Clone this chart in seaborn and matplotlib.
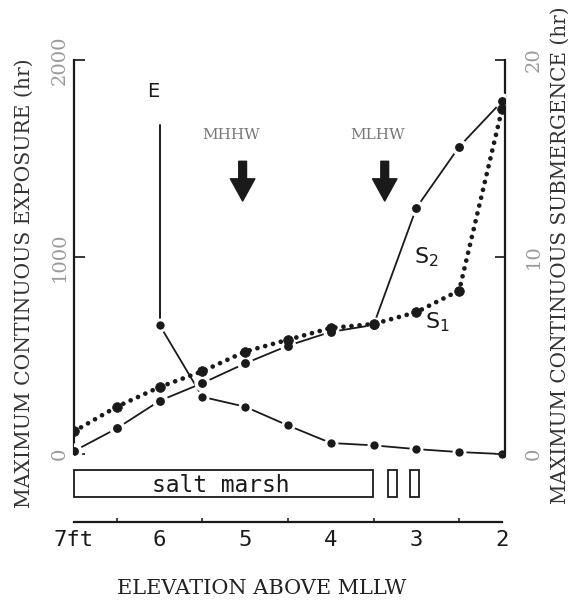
import matplotlib
matplotlib.use("Agg")
import matplotlib.pyplot as plt
from matplotlib.patches import Rectangle
import numpy as np
import pandas as pd
import seaborn as sns

# ---------------- data ----------------
elevation = [7, 6.5, 6, 5.5, 5, 4.5, 4, 3.5, 3, 2.5, 2]          # ft above MLLW
s1_hr = [1.15, 2.4, 3.4, 4.2, 5.2, 5.8, 6.4, 6.6, 7.2, 8.3, 17.5]   # max continuous submergence S1
s2_hr = [0.15, 1.3, 2.7, 3.6, 4.6, 5.5, 6.2, 6.55, 12.5, 15.6, 17.9]  # S2
e_elev = [6, 5.5, 5, 4.5, 4, 3.5, 3, 2.5, 2]
e_hr = [655, 290, 240, 145, 56, 44, 25, 10, 0]                      # max continuous exposure E
e_top = 1670                                                        # E rises off-scale at 6 ft
x_ticks = [7, 6, 5, 4, 3, 2]
x_ticklabels = ["7ft", "6", "5", "4", "3", "2"]
x_minor = [6.5, 5.5, 4.5, 3.5, 2.5]
left_ticks = [0, 1000, 2000]
right_ticks = [0, 10, 20]
marsh_zone = (7.0, 3.51)
pool_zones = [(3.33, 3.23), (3.07, 2.97)]
datums = [("MHHW", 5.03, 5.17), ("MLHW", 3.37, 3.45)]

sns.set_theme(style="white")
plt.rcParams["font.family"] = ["DejaVu Sans"]
plt.rcParams["mathtext.fontset"] = "dejavusans"

W, H = 587, 601
fig = plt.figure(figsize=(W / 100, H / 100), dpi=100)
ax = fig.add_axes([74 / W, 1 - 522 / H, (505 - 74) / W, (522 - 60) / H])
ax2 = ax.twinx()

df_s = pd.DataFrame({"elev": elevation, "S1": s1_hr, "S2": s2_hr})
df_e = pd.DataFrame({"elev": e_elev, "E": e_hr})

# E curve (left axis)
ax.plot([e_elev[0], e_elev[0]], [e_top, e_hr[0]], color="k", lw=1.4, zorder=3)
sns.lineplot(data=df_e, x="elev", y="E", ax=ax, color="k", lw=1.3, marker="o",
             markersize=8, markeredgecolor="white", markeredgewidth=2.0,
             markerfacecolor="k", zorder=4, sort=False, estimator=None)

# S2 (right axis)
sns.lineplot(data=df_s, x="elev", y="S2", ax=ax2, color="k", lw=1.3, marker="o",
             markersize=9, markeredgecolor="white", markeredgewidth=2.6,
             markerfacecolor="k", sort=False, estimator=None, zorder=3)
# S1 dotted (right axis)
sns.lineplot(data=df_s, x="elev", y="S1", ax=ax2, color="k", lw=3.4,
             linestyle=(0, (0.01, 1.7)), dash_capstyle="round", marker="o",
             markersize=7, markeredgecolor="k", markeredgewidth=0.5,
             markerfacecolor="k", sort=False, estimator=None, zorder=4)

ax.set_xlim(7, 1.965)
ax.set_ylim(-345, 2000)
ax2.set_ylim(-3.45, 20)

# spines
for a in (ax, ax2):
    for s in a.spines.values():
        s.set_visible(False)
        s.set_linewidth(1.6)
        s.set_color("k")
ax.spines["left"].set_visible(True)
ax.spines["left"].set_bounds(0, 2000)
ax.spines["bottom"].set_visible(True)
ax.spines["bottom"].set_bounds(7, 2)
ax2.spines["right"].set_visible(True)
ax2.spines["right"].set_bounds(0, 20)

ax.set_xticks(x_ticks)
ax.set_xticklabels(x_ticklabels)
ax.set_xticks(x_minor, minor=True)
ax.tick_params(axis="x", which="major", direction="in", length=6, width=1.3,
               pad=6, labelsize=16, colors="k")
ax.tick_params(axis="x", which="minor", direction="in", length=3, width=1.2,
               bottom=True)
for t in ax.get_xticklabels():
    t.set_family("DejaVu Sans Mono")

ax.set_yticks(left_ticks)
ax.set_yticklabels(["0", "1000", "2000"])
ax.tick_params(axis="y", direction="in", length=8, width=1.3, pad=4,
               labelsize=14, labelcolor="#9a9a9a", labelrotation=90, left=True)
for t in ax.get_yticklabels():
    t.set_family("DejaVu Serif")
    t.set_va("center")

ax2.set_yticks(right_ticks)
ax2.set_yticklabels(["0", "10", "20"])
ax2.tick_params(axis="y", direction="in", length=7, width=1.3, pad=14,
                labelsize=14, labelcolor="#9a9a9a", labelrotation=90, right=True)
for t in ax2.get_yticklabels():
    t.set_family("DejaVu Serif")
    t.set_va("center")

ax.set_xlabel("")
ax.set_ylabel("")
ax2.set_ylabel("")
ax.grid(False)
ax2.grid(False)

# axis titles
fig.text(24 / W, 1 - 283 / H, "MAXIMUM CONTINUOUS EXPOSURE (hr)", rotation=90,
         ha="center", va="center", family="DejaVu Serif", fontsize=14.6, color="#333333")
fig.text(560 / W, 1 - 255 / H, "MAXIMUM CONTINUOUS SUBMERGENCE (hr)", rotation=90,
         ha="center", va="center", family="DejaVu Serif", fontsize=14.4, color="#333333")
fig.text(262 / W, 1 - 588 / H, "ELEVATION ABOVE MLLW", ha="center", va="center",
         family="DejaVu Serif", fontsize=15, color="#222222")

# zone boxes
ax.add_patch(Rectangle((marsh_zone[1], -218), marsh_zone[0] - marsh_zone[1], 137,
                       fill=False, ec="k", lw=1.3, clip_on=False))
for a, b in pool_zones:
    ax.add_patch(Rectangle((b, -218), a - b, 137, fill=False, ec="k", lw=1.3,
                           clip_on=False))
ax.text(5.29, -160, "salt marsh", ha="center", va="center",
        family="DejaVu Sans Mono", fontsize=16.5, color="k")

# curve labels
ax.text(6.08, 1838, "E", ha="center", va="center", fontsize=14, color="k")
ax2.text(2.88, 10.0, "S$_2$", ha="center", va="center", fontsize=16, color="k")
ax2.text(2.76, 6.7, "S$_1$", ha="center", va="center", fontsize=16, color="k")

# tidal datum markers
for name, xa, xt in datums:
    ax.text(xt, 1619, name, ha="center", va="center", family="DejaVu Serif",
            fontsize=11, color="#777777")
    ax.annotate("", xy=(xa, 1270), xytext=(xa, 1500),
                arrowprops=dict(arrowstyle="simple,head_width=1.1,head_length=1.0,tail_width=0.35",
                                fc="k", ec="k", mutation_scale=16))

fig.savefig("out.png", dpi=100)
